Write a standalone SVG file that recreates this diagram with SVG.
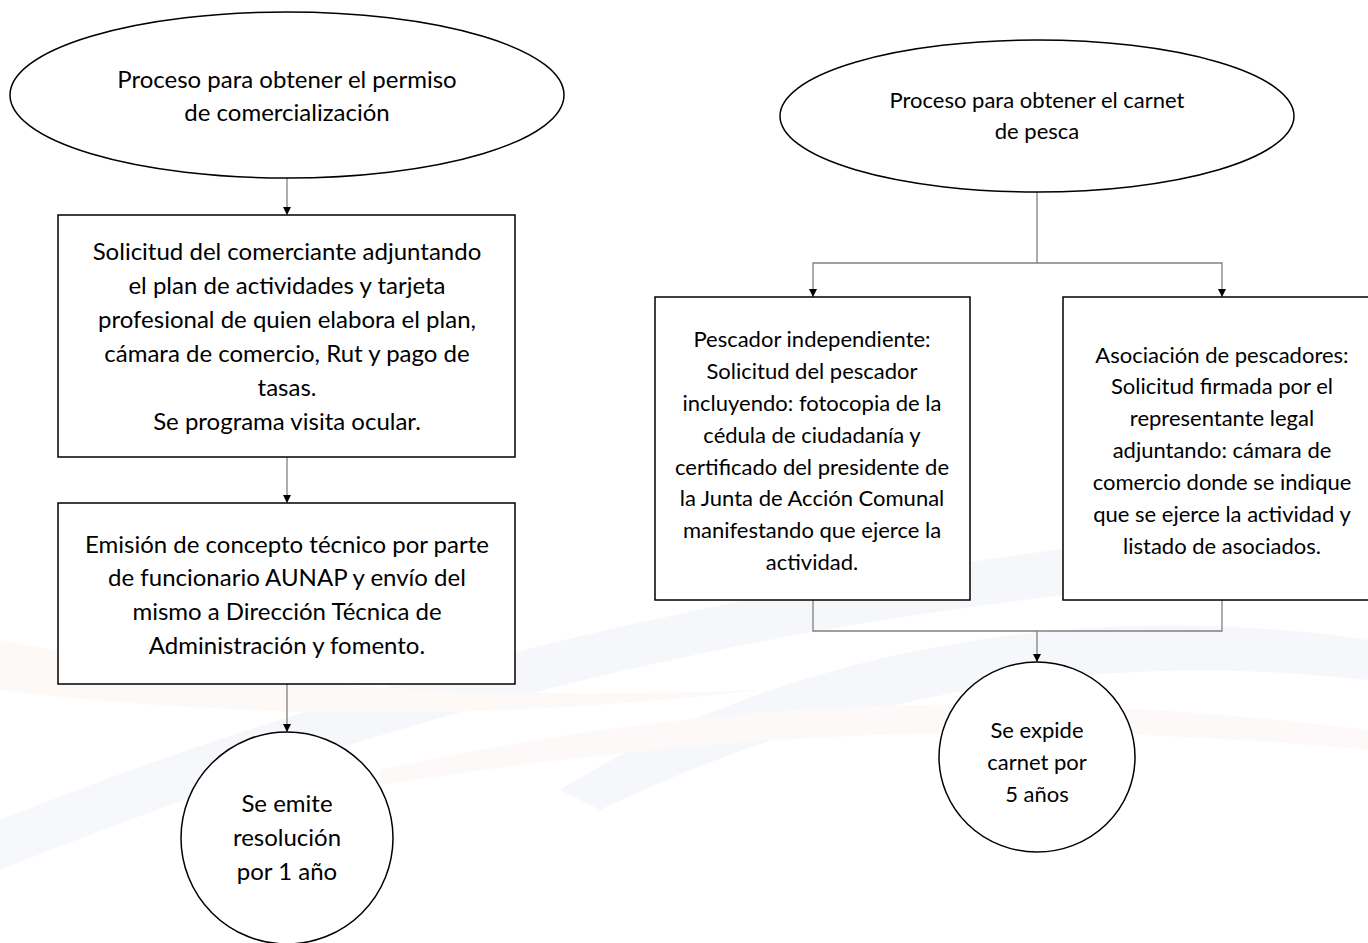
<svg xmlns="http://www.w3.org/2000/svg" width="1368" height="943" viewBox="0 0 1368 943">
<defs>
<style>
.n{fill:#fff;stroke:#000;stroke-width:1.5}
.c{fill:none;stroke:#808080;stroke-width:1.3}
.t{font-family:Lato,"Liberation Sans",sans-serif;font-size:24px;fill:#000;text-anchor:middle}
.s{font-size:22px}
.bg{stroke:none}
</style>
<marker id="ah" viewBox="0 0 10 10" refX="10" refY="5" markerWidth="8" markerHeight="8" markerUnits="userSpaceOnUse" orient="auto">
<path d="M0,0 L10,5 L0,10 z" fill="#000"/>
</marker>
</defs>
<rect width="1368" height="943" fill="#fff"/>
<g id="background" opacity="0.35">
<path class="bg" d="M0,820 C300,700 750,560 1368,520 L1368,570 C800,600 400,710 0,870 z" fill="#e8ebf3"/>
<path class="bg" d="M0,640 C250,690 500,700 760,690 C500,720 250,720 0,690 z" fill="#fbeee9"/>
<path class="bg" d="M560,790 C800,640 1100,600 1368,640 L1368,680 C1100,650 850,690 600,810 z" fill="#e8ebf3"/>
<path class="bg" d="M380,770 C700,700 1000,685 1368,730 L1368,750 C1000,715 700,735 380,785 z" fill="#fbf0ec"/>
</g>
<g id="connectors">
<path class="c" d="M287,178 V215" marker-end="url(#ah)"/>
<path class="c" d="M287,457 V503" marker-end="url(#ah)"/>
<path class="c" d="M287,684 V732" marker-end="url(#ah)"/>
<path class="c" d="M1037,192 V263 H813 V297" marker-end="url(#ah)"/>
<path class="c" d="M1037,263 H1222 V297" marker-end="url(#ah)"/>
<path class="c" d="M813,600 V631 H1222 V600"/>
<path class="c" d="M1037,631 V662" marker-end="url(#ah)"/>
</g>
<g id="n1">
<ellipse class="n" cx="287" cy="95" rx="277" ry="83"/>
<text class="t" x="287" y="88">Proceso para obtener el permiso</text>
<text class="t" x="287" y="121">de comercialización</text>
</g>
<g id="n2">
<rect class="n" x="58" y="215" width="457" height="242"/>
<text class="t" x="287" y="260">Solicitud del comerciante adjuntando</text>
<text class="t" x="287" y="294">el plan de actividades y tarjeta</text>
<text class="t" x="287" y="328">profesional de quien elabora el plan,</text>
<text class="t" x="287" y="362">cámara de comercio, Rut y pago de</text>
<text class="t" x="287" y="396">tasas.</text>
<text class="t" x="287" y="430">Se programa visita ocular.</text>
</g>
<g id="n3">
<rect class="n" x="58" y="503" width="457" height="181"/>
<text class="t" x="287" y="553">Emisión de concepto técnico por parte</text>
<text class="t" x="287" y="586">de funcionario AUNAP y envío del</text>
<text class="t" x="287" y="620">mismo a Dirección Técnica de</text>
<text class="t" x="287" y="654">Administración y fomento.</text>
</g>
<g id="n4">
<ellipse class="n" cx="287" cy="838" rx="106" ry="106"/>
<text class="t" x="287" y="812">Se emite</text>
<text class="t" x="287" y="846">resolución</text>
<text class="t" x="287" y="880">por 1 año</text>
</g>
<g id="n5">
<ellipse class="n" cx="1037" cy="116" rx="257" ry="76"/>
<text class="t s" x="1037" y="108">Proceso para obtener el carnet</text>
<text class="t s" x="1037" y="139">de pesca</text>
</g>
<g id="n6">
<rect class="n" x="655" y="297" width="315" height="303"/>
<text class="t s" x="812" y="347">Pescador independiente:</text>
<text class="t s" x="812" y="379">Solicitud del pescador</text>
<text class="t s" x="812" y="411">incluyendo: fotocopia de la</text>
<text class="t s" x="812" y="443">cédula de ciudadanía y</text>
<text class="t s" x="812" y="475">certificado del presidente de</text>
<text class="t s" x="812" y="506">la Junta de Acción Comunal</text>
<text class="t s" x="812" y="538">manifestando que ejerce la</text>
<text class="t s" x="812" y="570">actividad.</text>
</g>
<g id="n7">
<rect class="n" x="1063" y="297" width="310" height="303"/>
<text class="t s" x="1222" y="363">Asociación de pescadores:</text>
<text class="t s" x="1222" y="394">Solicitud firmada por el</text>
<text class="t s" x="1222" y="426">representante legal</text>
<text class="t s" x="1222" y="458">adjuntando: cámara de</text>
<text class="t s" x="1222" y="490">comercio donde se indique</text>
<text class="t s" x="1222" y="522">que se ejerce la actividad y</text>
<text class="t s" x="1222" y="554">listado de asociados.</text>
</g>
<g id="n8">
<ellipse class="n" cx="1037" cy="757" rx="98" ry="95"/>
<text class="t s" x="1037" y="738">Se expide</text>
<text class="t s" x="1037" y="770">carnet por</text>
<text class="t s" x="1037" y="802">5 años</text>
</g>
</svg>
